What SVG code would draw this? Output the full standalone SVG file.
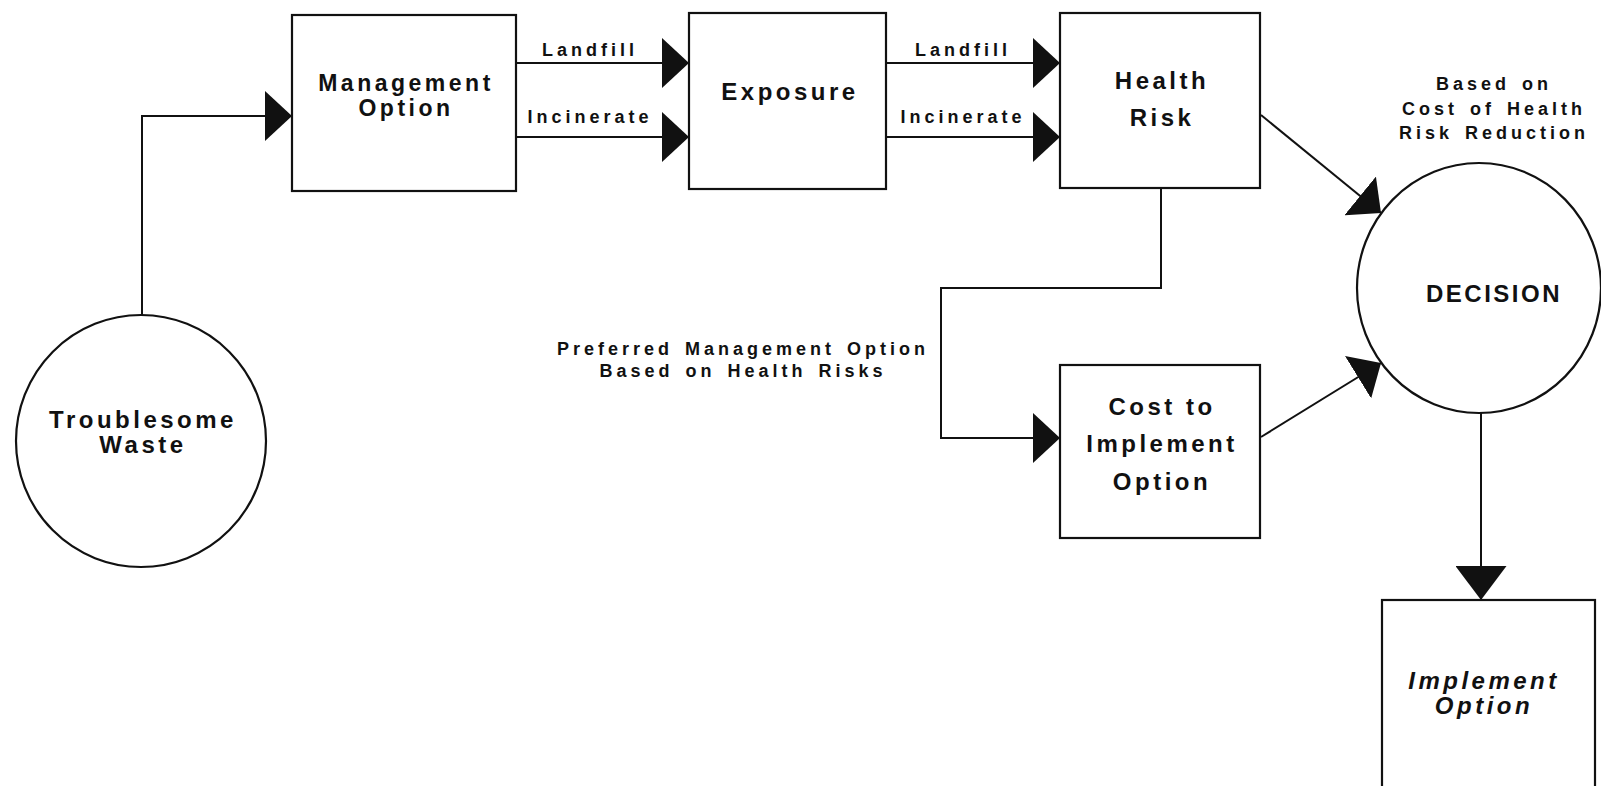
<svg xmlns="http://www.w3.org/2000/svg" width="1601" height="786" viewBox="0 0 1601 786">
  <style>
    .shape { fill: #fff; stroke: #111; stroke-width: 2.2; }
    .wire { fill: none; stroke: #111; stroke-width: 2; }
    .big { font-family: "Liberation Sans", Arial, sans-serif; font-weight: bold; font-size: 24px; letter-spacing: 3.5px; fill: #111; text-anchor: middle; }
    .small { font-family: "Liberation Sans", Arial, sans-serif; font-weight: bold; font-size: 18px; letter-spacing: 4px; word-spacing: 3px; fill: #111; text-anchor: middle; }
    .ital { font-style: italic; }
  </style>
  <defs>
    <marker id="head" viewBox="0 0 27 50" refX="27" refY="25" markerWidth="27" markerHeight="50" markerUnits="userSpaceOnUse" orient="auto">
      <path d="M0,0 L27,25 L0,50 Z" fill="#111"/>
    </marker>
    <marker id="headLong" viewBox="0 0 34 51" refX="34" refY="25.5" markerWidth="34" markerHeight="51" markerUnits="userSpaceOnUse" orient="auto">
      <path d="M0,0 L34,25.5 L0,51 Z" fill="#111"/>
    </marker>
  </defs>
  <rect width="1601" height="786" fill="#fff"/>

  <!-- connectors -->
  <g id="connectors">
    <path class="wire" d="M142,315 V116 H292" marker-end="url(#head)"/>
    <path class="wire" d="M516,63 H689" marker-end="url(#head)"/>
    <path class="wire" d="M516,137 H689" marker-end="url(#head)"/>
    <path class="wire" d="M886,63 H1060" marker-end="url(#head)"/>
    <path class="wire" d="M886,137 H1060" marker-end="url(#head)"/>
    <path class="wire" d="M1161,188 V288 H941 V438 H1060" marker-end="url(#head)"/>
    <path class="wire" d="M1261,115 L1381,213" marker-end="url(#head)"/>
    <path class="wire" d="M1261,437 L1381,363" marker-end="url(#head)"/>
    <path class="wire" d="M1481,413 V600" marker-end="url(#headLong)"/>

    <text class="small" x="590" y="56">Landfill</text>
    <text class="small" x="590" y="123">Incinerate</text>
    <text class="small" x="963" y="56">Landfill</text>
    <text class="small" x="963" y="123">Incinerate</text>
    <text class="small" x="743" y="355">Preferred Management Option</text>
    <text class="small" x="743" y="377">Based on Health Risks</text>
    <text class="small" x="1494" y="90">Based on</text>
    <text class="small" x="1494" y="115">Cost of Health</text>
    <text class="small" x="1494" y="139">Risk Reduction</text>
  </g>

  <!-- nodes -->
  <g id="waste">
    <ellipse class="shape" cx="141" cy="441" rx="125" ry="126"/>
    <text class="big" x="143" y="428">Troublesome</text>
    <text class="big" x="143" y="453">Waste</text>
  </g>

  <g id="management">
    <rect class="shape" x="292" y="15" width="224" height="176"/>
    <text class="big" x="406" y="91" style="font-size:23px">Management</text>
    <text class="big" x="406" y="116" style="font-size:23px">Option</text>
  </g>

  <g id="exposure">
    <rect class="shape" x="689" y="13" width="197" height="176"/>
    <text class="big" x="790" y="100">Exposure</text>
  </g>

  <g id="health-risk">
    <rect class="shape" x="1060" y="13" width="200" height="175"/>
    <text class="big" x="1162" y="89">Health</text>
    <text class="big" x="1162" y="126">Risk</text>
  </g>

  <g id="cost">
    <rect class="shape" x="1060" y="365" width="200" height="173"/>
    <text class="big" x="1162" y="415">Cost to</text>
    <text class="big" x="1162" y="452">Implement</text>
    <text class="big" x="1162" y="490">Option</text>
  </g>

  <g id="decision">
    <ellipse class="shape" cx="1479" cy="288" rx="122" ry="125"/>
    <text class="big" x="1494" y="302" style="letter-spacing:2.5px">DECISION</text>
  </g>

  <g id="implement">
    <rect class="shape" x="1382" y="600" width="213" height="210"/>
    <text class="big ital" x="1484" y="689">Implement</text>
    <text class="big ital" x="1484" y="714">Option</text>
  </g>
</svg>
